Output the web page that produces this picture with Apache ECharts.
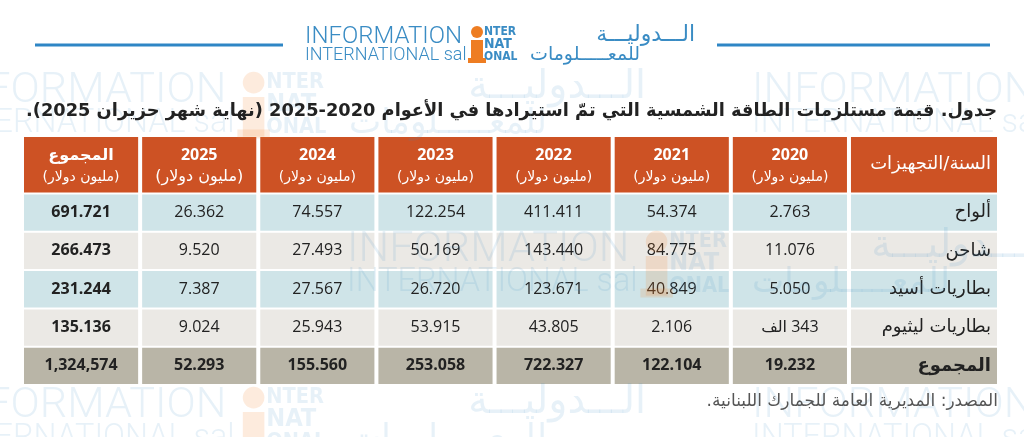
<!DOCTYPE html>
<html lang="ar">
<head>
  <meta charset="utf-8">
  <title>قيمة مستلزمات الطاقة الشمسية</title>
  <style>
    html, body { margin: 0; padding: 0; background: #fff; }
    #chart { width: 1024px; height: 437px; }
  </style>
</head>
<body>
  <div id="chart"></div>
  <script src="https://cdn.jsdelivr.net/npm/echarts@6/dist/echarts.min.js"></script>
  <script>
    // البيانات (مليون دولار) كما هي في الجدول
    var items = ['ألواح', 'شاحن', 'بطاريات أسيد', 'بطاريات ليثيوم', 'المجموع'];
    var val2020 = ['2.763', '11.076', '5.050', '343 الف', '19.232'];
    var val2021 = ['54.374', '84.775', '40.849', '2.106', '122.104'];
    var val2022 = ['411.411', '143.440', '123.671', '43.805', '722.327'];
    var val2023 = ['122.254', '50.169', '26.720', '53.915', '253.058'];
    var val2024 = ['74.557', '27.493', '27.567', '25.943', '155.560'];
    var val2025 = ['26.362', '9.520', '7.387', '9.024', '52.293'];
    var valTotal = ['691.721', '266.473', '231.244', '135.136', '1,324,574'];
    var headers = ['المجموع', '2025', '2024', '2023', '2022', '2021', '2020'];
    var unitText = '(مليون دولار)';
    var cornerText = 'السنة/التجهيزات';
    var titleText = 'جدول. قيمة مستلزمات الطاقة الشمسية التي تمّ استيرادها في الأعوام 2020-2025 (نهاية شهر حزيران 2025).';
    var sourceText = 'المصدر: المديرية العامة للجمارك اللبنانية.';

    // الأعمدة من اليسار لليمين
    var columns = [valTotal, val2025, val2024, val2023, val2022, val2021, val2020];
    var labelWidth = 1.27;  // عرض عمود التجهيزات بالنسبة لعمود عادي
    var headHeight = 1.5;

    var FONT = '"Open Sans", "DejaVu Sans", sans-serif';
    var AR = '"DejaVu Sans", sans-serif';
    var rowColors = ['#cfe4e8', '#ebe9e5', '#cfe4e8', '#ebe9e5', '#b9b5a7'];
    var headColor = '#cd5224';
    var blue = '#3a8cc4';
    var RLE = '\u202B', PDF = '\u202C';  // نص من اليمين لليسار

    // خلايا الجدول
    var cells = [];
    var data = [];
    function addCell(x0, x1, y0, y1, info) {
      data.push([x0, x1, y0, y1]);
      cells.push(info);
    }
    headers.forEach(function (h, c) {
      addCell(c, c + 1, 0, headHeight, { kind: 'head', text: h, big: c === 1 });
    });
    addCell(7, 7 + labelWidth, 0, headHeight, { kind: 'corner', text: cornerText });
    items.forEach(function (name, r) {
      var total = r === items.length - 1;
      columns.forEach(function (vals, c) {
        addCell(c, c + 1, headHeight + r, headHeight + r + 1,
          { kind: 'num', text: vals[r], bold: total || c === 0, row: r });
      });
      addCell(7, 7 + labelWidth, headHeight + r, headHeight + r + 1,
        { kind: 'label', text: name, bold: total, row: r });
    });

    function renderCell(params, api) {
      var info = cells[params.dataIndex];
      var p0 = api.coord([api.value(0), api.value(2)]);
      var p1 = api.coord([api.value(1), api.value(3)]);
      var x = p0[0] + 2, y = p0[1] + 1;
      var w = p1[0] - p0[0] - 4, h = p1[1] - p0[1] - 2;
      var fill = (info.kind === 'head' || info.kind === 'corner') ? headColor : rowColors[info.row];
      var children = [{ type: 'rect', shape: { x: x, y: y, width: w, height: h }, style: { fill: fill } }];
      if (info.kind === 'head') {
        children.push({
          type: 'text', style: {
            text: info.text, x: x + w / 2, y: y + 18, fill: '#fff',
            font: 'bold 16px ' + FONT, textAlign: 'center', textVerticalAlign: 'middle'
          }
        });
        children.push({
          type: 'text', style: {
            text: unitText, x: x + w / 2, y: y + 40, fill: '#fff',
            font: (info.big ? '16px ' : '14px ') + AR, textAlign: 'center', textVerticalAlign: 'middle'
          }
        });
      } else if (info.kind === 'corner') {
        children.push({
          type: 'text', style: {
            text: info.text, x: x + w - 6, y: y + h / 2, fill: '#fff',
            font: '18px ' + AR, textAlign: 'right', textVerticalAlign: 'middle'
          }
        });
      } else if (info.kind === 'label') {
        children.push({
          type: 'text', style: {
            text: info.text, x: x + w - 6, y: y + h / 2, fill: '#222',
            font: (info.bold ? 'bold ' : '') + '18px ' + AR, textAlign: 'right', textVerticalAlign: 'middle'
          }
        });
      } else {
        children.push({
          type: 'text', style: {
            text: RLE + info.text + PDF, x: x + w / 2, y: y + h / 2, fill: '#222',
            font: (info.bold ? 'bold ' : '') + '16px ' + FONT, textAlign: 'center', textVerticalAlign: 'middle'
          }
        });
      }
      return { type: 'group', children: children };
    }

    // الشعار (مع العلامة المائية)
    function logo(x, y, s, op, z) {
      var els = [];
      var bl = op < 1 ? 'rgba(58,140,196,' + op + ')' : blue;
      var or = op < 1 ? 'rgba(240,125,40,' + (op * 1.3) + ')' : '#ee7d22';
      var cond = '"DejaVu Sans Condensed", "DejaVu Sans"';
      els.push({ type: 'text', x: x, y: y, z: z, style: { text: 'INFORMATION', fill: bl, font: '300 ' + (24 * s) + 'px Roboto', textVerticalAlign: 'top' } });
      els.push({ type: 'text', x: x, y: y + 21 * s, z: z, style: { text: 'INTERNATIONAL sal', fill: bl, font: '300 ' + (18 * s) + 'px Roboto', textVerticalAlign: 'top' } });
      els.push({ type: 'circle', z: z, shape: { cx: x + 172 * s, cy: y + 7 * s, r: 6 * s }, style: { fill: or } });
      els.push({ type: 'rect', z: z, shape: { x: x + 166 * s, y: y + 15 * s, width: 12 * s, height: 22 * s }, style: { fill: or } });
      els.push({ type: 'rect', z: z, shape: { x: x + 163 * s, y: y + 33 * s, width: 18 * s, height: 5 * s }, style: { fill: or } });
      els.push({ type: 'text', x: x + 179 * s, y: y + 1 * s, z: z, style: { text: 'NTER', fill: bl, font: 'bold ' + (12 * s) + 'px ' + cond, textVerticalAlign: 'top' } });
      els.push({ type: 'text', x: x + 179 * s, y: y + 12 * s, z: z, style: { text: 'NAT', fill: bl, font: 'bold ' + (14 * s) + 'px ' + cond, textVerticalAlign: 'top' } });
      els.push({ type: 'text', x: x + 179 * s, y: y + 26 * s, z: z, style: { text: 'ONAL', fill: bl, font: 'bold ' + (12 * s) + 'px ' + cond, textVerticalAlign: 'top' } });
      els.push({ type: 'text', x: x + 390 * s, y: y + 10 * s, z: z, style: { text: 'الـــدوليـــة', fill: bl, font: (22 * s) + 'px ' + AR, textAlign: 'right', textVerticalAlign: 'middle' } });
      els.push({ type: 'text', x: x + 225 * s, y: y + 30 * s, z: z, style: { text: 'للمعـــــلومات', fill: bl, font: (19 * s) + 'px ' + AR, textAlign: 'left', textVerticalAlign: 'middle' } });
      return els;
    }

    var graphics = [];
    var marks = [[-56, 70], [752, 70], [347, 229], [-56, 385], [752, 385]];
    marks.forEach(function (m) {
      graphics = graphics.concat(logo(m[0], m[1], 1.8, 0.12, 50));
    });
    graphics = graphics.concat(logo(305, 25, 1, 1, 60));
    graphics.push({ type: 'line', z: 60, shape: { x1: 35, y1: 45, x2: 283, y2: 45 }, style: { stroke: '#2e86c5', lineWidth: 3 } });
    graphics.push({ type: 'line', z: 60, shape: { x1: 717, y1: 45, x2: 990, y2: 45 }, style: { stroke: '#2e86c5', lineWidth: 3 } });
    graphics.push({ type: 'text', x: 997, y: 111, z: 60, style: { text: RLE + titleText + PDF, fill: '#222', font: 'bold 17.8px ' + AR, textAlign: 'right', textVerticalAlign: 'middle' } });
    graphics.push({ type: 'text', x: 998, y: 402, z: 60, style: { text: RLE + sourceText + PDF, fill: '#555', font: '17px ' + AR, textAlign: 'right', textVerticalAlign: 'middle' } });

    var chart = echarts.init(document.getElementById('chart'));
    var option = {
      animation: false,
      backgroundColor: '#fff',
      grid: { left: 22, right: 25, top: 136, bottom: 52 },
      xAxis: { type: 'value', min: 0, max: 7 + labelWidth, show: false },
      yAxis: { type: 'value', min: 0, max: headHeight + items.length, inverse: true, show: false },
      graphic: graphics,
      series: [{
        type: 'custom',
        coordinateSystem: 'cartesian2d',
        renderItem: renderCell,
        encode: { x: [0, 1], y: [2, 3] },
        data: data,
        z: 10
      }]
    };
    chart.setOption(option);
  </script>
</body>
</html>
